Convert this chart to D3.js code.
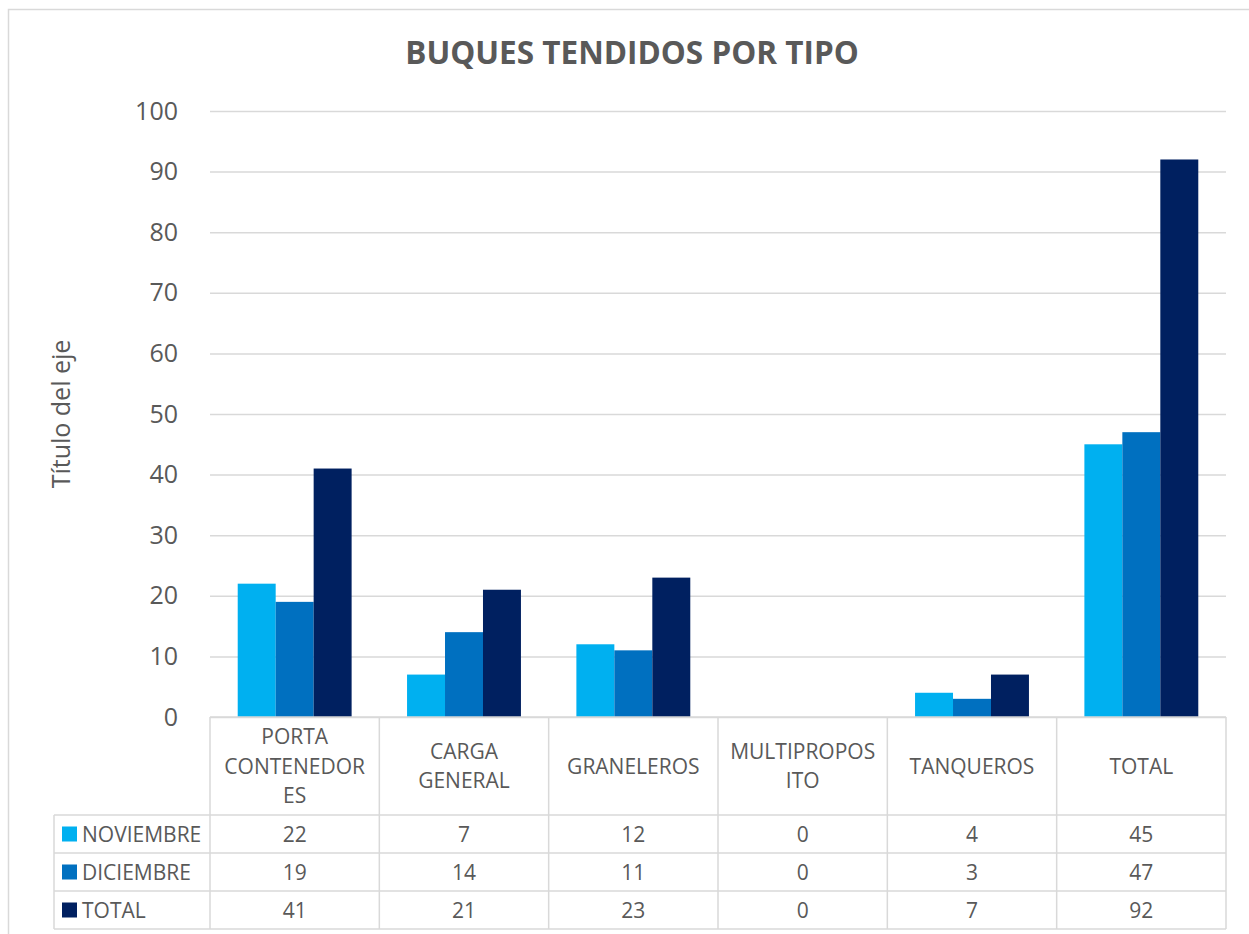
<!DOCTYPE html>
<html>
<head>
<meta charset="utf-8">
<script src="https://cdn.jsdelivr.net/npm/d3@7"></script>
<style>
  body { margin: 0; background: #fff; }
  svg { display: block; font-family: "Open Sans", "Noto Sans", sans-serif; }
</style>
</head>
<body>
<div id="chart"></div>
<script>
const width = 1249, height = 934;

// datos
const categories = ["PORTA CONTENEDORES", "CARGA GENERAL", "GRANELEROS", "MULTIPROPOSITO", "TANQUEROS", "TOTAL"];
const categoryLines = [["PORTA", "CONTENEDOR", "ES"], ["CARGA", "GENERAL"], ["GRANELEROS"], ["MULTIPROPOS", "ITO"], ["TANQUEROS"], ["TOTAL"]];
const seriesNames = ["NOVIEMBRE", "DICIEMBRE", "TOTAL"];
const noviembre = [22, 7, 12, 0, 4, 45];
const diciembre = [19, 14, 11, 0, 3, 47];
const total = [41, 21, 23, 0, 7, 92];
const yTicks = [0, 10, 20, 30, 40, 50, 60, 70, 80, 90, 100];
const colors = ["#00B0F0", "#0070C0", "#002060"];

const seriesValues = [noviembre, diciembre, total];
const gridColor = "#d9d9d9", textColor = "#595959";
const tableFont = 21;

const svg = d3.select("#chart").append("svg").attr("width", width).attr("height", height);

// marco del gráfico
svg.append("rect").attr("x", 8.5).attr("y", 9.5).attr("width", 1260).attr("height", 960)
  .attr("fill", "none").attr("stroke", gridColor).attr("stroke-width", 1.5);

const plot = { left: 210, right: 1226, top: 111, bottom: 717 };
const rowH = 38, headerBottom = 815, legendLeft = 54;

const x = d3.scaleBand().domain(categories).range([plot.left, plot.right]).padding(0);
const xs = d3.scaleBand().domain(seriesNames).range([0, x.bandwidth()]).paddingInner(0).paddingOuter(0.73);
const y = d3.scaleLinear().domain([0, 100]).range([plot.bottom, plot.top]);

// título
svg.append("text").attr("x", 632).attr("y", 64).attr("text-anchor", "middle")
  .attr("font-size", 31.5).attr("font-weight", "bold").attr("fill", textColor)
  .text("BUQUES TENDIDOS POR TIPO");

// líneas de cuadrícula y ticks
const yAxis = svg.append("g").attr("transform", `translate(${plot.left},0)`)
  .call(d3.axisLeft(y).tickValues(yTicks).tickSize(-(plot.right - plot.left)).tickPadding(32));
yAxis.select(".domain").remove();
yAxis.selectAll(".tick line").attr("stroke", gridColor).attr("stroke-width", 1.5);
yAxis.selectAll(".tick text").attr("fill", textColor).attr("font-size", 25)
  .attr("font-family", "'Open Sans', sans-serif");

// título eje
svg.append("text").attr("transform", `translate(70,414) rotate(-90)`)
  .attr("text-anchor", "middle").attr("font-size", 25).attr("fill", textColor)
  .text("Título del eje");

// barras
const groups = svg.selectAll(".grupo").data(categories).join("g")
  .attr("class", "grupo").attr("transform", d => `translate(${x(d)},0)`);
groups.selectAll("rect").data((d, i) => seriesNames.map((s, j) => ({ s, v: seriesValues[j][i], j })))
  .join("rect")
  .attr("x", d => xs(d.s)).attr("width", xs.bandwidth())
  .attr("y", d => y(d.v)).attr("height", d => y(0) - y(d.v))
  .attr("fill", d => colors[d.j]);

// tabla de datos
const table = svg.append("g").attr("stroke", gridColor).attr("stroke-width", 1.5);
const tableBottom = headerBottom + rowH * seriesNames.length;
table.append("line").attr("x1", plot.left).attr("x2", plot.right).attr("y1", plot.bottom).attr("y2", plot.bottom);
d3.range(seriesNames.length + 1).forEach(i => {
  const yy = headerBottom + i * rowH;
  table.append("line").attr("x1", legendLeft).attr("x2", plot.right).attr("y1", yy).attr("y2", yy);
});
table.append("line").attr("x1", legendLeft).attr("x2", legendLeft).attr("y1", headerBottom).attr("y2", tableBottom);
categories.forEach(c => {
  const xx = x(c);
  table.append("line").attr("x1", xx).attr("x2", xx).attr("y1", plot.bottom).attr("y2", tableBottom);
});
table.append("line").attr("x1", plot.right).attr("x2", plot.right).attr("y1", plot.bottom).attr("y2", tableBottom);

// etiquetas de categoría
const headerMid = (plot.bottom + headerBottom) / 2;
const lineH = 29.5;
categories.forEach((c, i) => {
  const lines = categoryLines[i];
  const t = svg.append("text").attr("text-anchor", "middle").attr("font-size", tableFont).attr("fill", textColor);
  lines.forEach((l, k) => {
    t.append("tspan").attr("x", x(c) + x.bandwidth() / 2)
      .attr("y", headerMid + (k - (lines.length - 1) / 2) * lineH + 7.5)
      .text(l);
  });
});

// filas
seriesNames.forEach((s, j) => {
  const cy = headerBottom + j * rowH + rowH / 2;
  svg.append("rect").attr("x", 62).attr("y", cy - 7.5).attr("width", 15).attr("height", 15).attr("fill", colors[j]);
  svg.append("text").attr("x", 82).attr("y", cy + 7.5).attr("font-size", tableFont).attr("fill", textColor).text(s);
  categories.forEach((c, i) => {
    svg.append("text").attr("x", x(c) + x.bandwidth() / 2).attr("y", cy + 7.5)
      .attr("text-anchor", "middle").attr("font-size", tableFont).attr("fill", textColor)
      .text(seriesValues[j][i]);
  });
});
</script>
</body>
</html>
